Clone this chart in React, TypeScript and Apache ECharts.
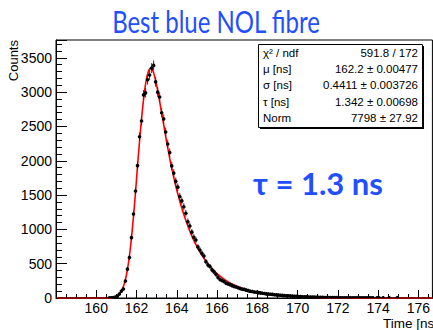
import React, { useEffect, useRef } from 'react';
import * as echarts from 'echarts';

// Histogram: bin centres start at BIN_START, width BIN_WIDTH (ns)
const BIN_START = 158.15;
const BIN_WIDTH = 0.1;
const counts: number[] = [
  0, 0, 0, 0, 0, 0, 0, 0, 0, 0, 0, 0, 0, 0, 0, 0, 0, 0, 0, 0, 0, 0, 0, 0,
  0, 1, 3, 7, 14, 28, 58, 101, 132, 248,
  420, 590, 880, 1224, 1560, 1930, 2350, 2580, 2960, 2990,
  3180, 3250, 3350, 3390, 3150, 3000, 2930, 2700, 2610, 2420,
  2245, 2120, 1925, 1820, 1700, 1615, 1480, 1415, 1330, 1235,
  1112, 1050, 960, 885, 845, 745, 700, 651, 612, 530,
  481, 460, 410, 380, 345, 300, 270, 255, 240, 215,
  205, 195, 180, 168, 160, 150, 138, 128, 125, 115,
  108, 98, 95, 88, 84, 78, 74, 70, 66, 60,
  58, 55, 52, 48, 46, 44, 40, 38, 35, 33,
  32, 30, 27, 26, 25, 22, 21, 19, 18, 16,
  15, 14, 13, 12, 11, 11, 10, 9, 8, 8,
  7, 6, 6, 5, 5, 4, 4, 4, 3, 3,
  3, 2, 3, 2, 2, 2, 1, 2, 1, 1,
  1, 1, 1, 0, 1, 1, 0, 1, 0, 0,
  1, 0, 0, 0, 1, 0, 0, 0, 0, 0,
  0, 0, 0, 0, 0, 0, 0, 0, 0, 0,
  0,
];

// Fit curve (red)
const fitTimes: number[] = [
  158.1, 160.0, 160.5, 160.8, 161.0, 161.1, 161.2, 161.3, 161.4, 161.5, 161.6, 161.7,
  161.8, 161.9, 162.0, 162.1, 162.2, 162.3, 162.4, 162.5, 162.6, 162.7, 162.8,
  162.9, 163.0, 163.1, 163.2, 163.3, 163.4, 163.5, 163.6, 163.7, 163.8, 163.9,
  164.0, 164.2, 164.4, 164.6, 164.8, 165.0, 165.2, 165.4, 165.6, 165.8, 166.0,
  166.2, 166.4, 166.6, 166.8, 167.0, 167.5, 168.0, 168.5, 169.0, 169.5, 170.0,
  171.0, 172.0, 173.0, 174.0, 175.0, 176.7,
];
const fitValues: number[] = [
  0, 0, 1, 6, 22, 40, 80, 135, 215, 335, 510, 740,
  1030, 1360, 1730, 2110, 2450, 2760, 3020, 3200, 3310, 3350, 3320,
  3230, 3100, 2950, 2780, 2610, 2440, 2270, 2110, 1960, 1825, 1695,
  1575, 1360, 1172, 1010, 870, 750, 647, 557, 480, 414, 357,
  308, 265, 228, 197, 170, 117, 80, 55, 38, 26, 18,
  8.5, 4, 2, 1, 0.4, 0.1,
];

const statsLabels = ['χ² / ndf', 'μ [ns]', 'σ [ns]', 'τ [ns]', 'Norm'];
const statsValues = ['591.8 / 172', '162.2 ± 0.00477', '0.4411 ± 0.003726', '1.342 ± 0.00698', '7798 ± 27.92'];

const FONT = '"Liberation Sans", Arial, Helvetica, sans-serif';
const BLUE = '#1f4fff';

export default function App() {
  const ref = useRef<HTMLDivElement>(null);
  useEffect(() => {
    if (!ref.current) return;
    const chart = echarts.init(ref.current, undefined, { renderer: 'svg' });
    const histData = counts.map((c, i) => [BIN_START + i * BIN_WIDTH, c]);
    const fitData = fitTimes.map((t, i) => [t, fitValues[i]]);

    const rowY0 = 53;
    const rowStep = 16.2;
    const statsChildren: any[] = [
      { type: 'rect', shape: { x: 260, y: 46, width: 164, height: 83 }, style: { fill: '#000' } },
      { type: 'rect', shape: { x: 258.5, y: 44.5, width: 164, height: 83 }, style: { fill: '#fff', stroke: '#000', lineWidth: 1 } },
    ];
    statsLabels.forEach((lab, i) => {
      statsChildren.push({
        type: 'text', x: 263, y: rowY0 + i * rowStep,
        style: { text: lab, fill: '#000', fontSize: 11.5, fontFamily: FONT, align: 'left', verticalAlign: 'middle' },
      });
      statsChildren.push({
        type: 'text', x: 418, y: rowY0 + i * rowStep,
        style: { text: statsValues[i], fill: '#000', fontSize: 11.5, fontFamily: FONT, align: 'right', verticalAlign: 'middle' },
      });
    });

    chart.setOption({
      animation: false,
      grid: { left: 56, right: -7, top: 40, bottom: 32, show: true, borderColor: '#000', borderWidth: 1 },
      xAxis: {
        type: 'value', min: 158, max: 176.7, interval: 2,
        axisLine: { lineStyle: { color: '#000', width: 1 } },
        axisTick: { inside: true, length: 8, lineStyle: { color: '#000' } },
        minorTick: { show: true, splitNumber: 4, length: 4, lineStyle: { color: '#000' } },
        axisLabel: { color: '#000', fontSize: 14, fontFamily: FONT, margin: 3, showMinLabel: false, showMaxLabel: false, formatter: (v: number) => String(v) },
        splitLine: { show: false },
      },
      yAxis: {
        type: 'value', min: 0, max: 3760, interval: 500,
        axisLine: { show: true, lineStyle: { color: '#000', width: 1 } },
        axisTick: { inside: true, length: 11, lineStyle: { color: '#000' } },
        minorTick: { show: true, splitNumber: 5, length: 6, lineStyle: { color: '#000' } },
        axisLabel: { color: '#000', fontSize: 14, fontFamily: FONT, margin: 4, showMaxLabel: false, formatter: (v: number) => String(v) },
        splitLine: { show: false },
      },
      series: [
        {
          type: 'line', data: fitData, smooth: 0.3, showSymbol: false,
          lineStyle: { color: '#ff0000', width: 1.6 }, z: 2,
        },
        {
          type: 'custom', data: histData, z: 3, clip: true,
          renderItem: (params: any, api: any) => {
            const t = api.value(0);
            const v = api.value(1);
            const e = Math.sqrt(v);
            const c = api.coord([t, v]);
            const lo = api.coord([t, v - e]);
            const hi = api.coord([t, v + e]);
            const l = api.coord([t - BIN_WIDTH / 2, v]);
            const r = api.coord([t + BIN_WIDTH / 2, v]);
            const children: any[] = [
              { type: 'line', shape: { x1: l[0], y1: c[1], x2: r[0], y2: c[1] }, style: { stroke: '#000', lineWidth: 1 } },
            ];
            if (v > 0) {
              children.push({ type: 'line', shape: { x1: c[0], y1: hi[1] - 1, x2: c[0], y2: lo[1] + 1 }, style: { stroke: '#333', lineWidth: 1 } });
              children.push({ type: 'circle', shape: { cx: c[0], cy: c[1], r: 1.8 }, style: { fill: '#000' } });
            }
            return { type: 'group', children };
          },
        },
      ],
      graphic: [
        {
          type: 'text', x: 216, y: 21, scaleX: 0.8,
          style: { text: 'Best blue NOL fibre', fill: BLUE, fontSize: 30, fontFamily: 'Lato, "Open Sans", sans-serif', align: 'center', verticalAlign: 'middle' },
        },
        {
          type: 'text', x: 318, y: 183,
          style: { text: 'τ = 1.3 ns', fill: BLUE, fontSize: 31, fontWeight: 'bold', fontFamily: 'Lato, "Open Sans", sans-serif', align: 'center', verticalAlign: 'middle' },
        },
        { type: 'group', children: statsChildren, z: 100 },
        {
          type: 'text', x: 13, y: 40, rotation: Math.PI / 2,
          style: { text: 'Counts', fill: '#000', fontSize: 13, fontFamily: FONT, align: 'right', verticalAlign: 'middle' },
        },
        {
          type: 'text', x: 438, y: 323,
          style: { text: 'Time [ns]', fill: '#000', fontSize: 13.5, fontFamily: FONT, align: 'right', verticalAlign: 'middle' },
        },
      ],
    });
    return () => chart.dispose();
  }, []);
  return <div ref={ref} style={{ width: 433, height: 330, position: 'absolute', left: 0, top: 0 }} />;
}
